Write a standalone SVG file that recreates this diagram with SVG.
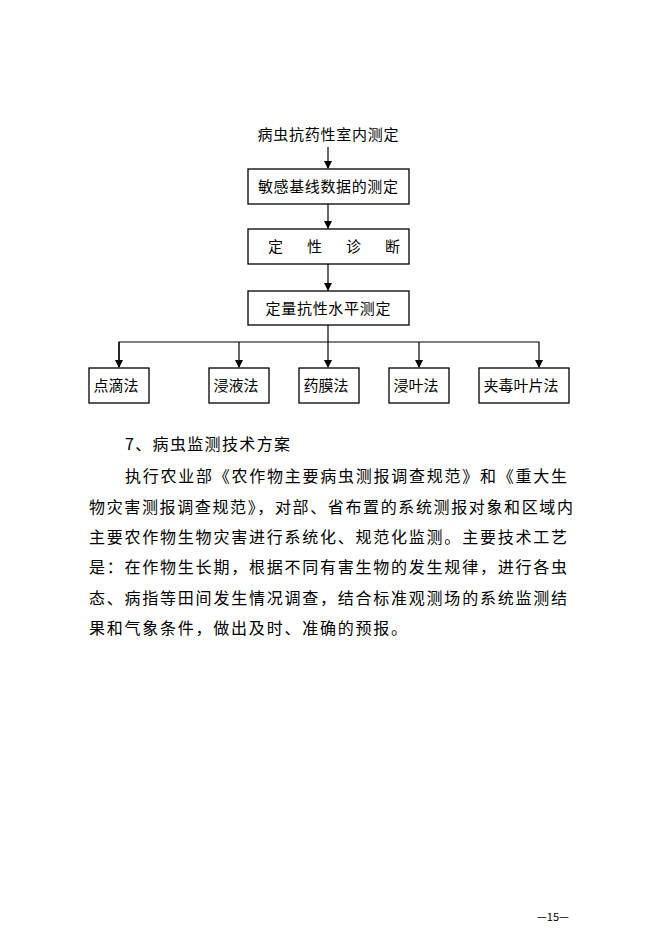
<svg xmlns="http://www.w3.org/2000/svg" width="662" height="936" viewBox="0 0 662 936">
<defs><marker id="ah" markerWidth="8" markerHeight="8" refX="7" refY="4" orient="auto" markerUnits="userSpaceOnUse"><path d="M0,0 L8,4 L0,8 z" fill="#000"/></marker></defs>
<style>
text{font-family:"Noto Sans CJK SC","Liberation Serif",serif;fill:#000}
.n{font-size:15px;text-anchor:middle}
.p{font-size:16px}
rect{fill:#fff;stroke:#000;stroke-width:1.3}
.c{stroke:#000;stroke-width:1.2;fill:none}
</style>
<rect x="0" y="0" width="662" height="936" style="stroke:none"/>
<g id="title"><text class="n" x="328" y="140" textLength="141" lengthAdjust="spacing">病虫抗药性室内测定</text></g>
<g id="connectors">
<line class="c" x1="328" y1="147" x2="328" y2="168" marker-end="url(#ah)"/>
<line class="c" x1="328" y1="204" x2="328" y2="228" marker-end="url(#ah)"/>
<line class="c" x1="328" y1="264" x2="328" y2="290" marker-end="url(#ah)"/>
<line class="c" x1="328" y1="325" x2="328" y2="367" marker-end="url(#ah)"/>
<polyline class="c" points="119,367 119,342 539,342 539,367" marker-end="url(#ah)"/>
<line class="c" x1="119" y1="342" x2="119" y2="367" marker-end="url(#ah)"/>
<line class="c" x1="239" y1="342" x2="239" y2="367" marker-end="url(#ah)"/>
<line class="c" x1="419" y1="342" x2="419" y2="367" marker-end="url(#ah)"/>
</g>
<g id="n1"><rect x="248" y="169" width="161" height="35"/><text class="n" x="328" y="192" textLength="140" lengthAdjust="spacing">敏感基线数据的测定</text></g>
<g id="n2"><rect x="248" y="229" width="161" height="35"/><text class="n" x="334" y="252" textLength="132" lengthAdjust="spacing">定    性    诊    断</text></g>
<g id="n3"><rect x="248" y="291" width="161" height="34"/><text class="n" x="328" y="314" textLength="125" lengthAdjust="spacing">定量抗性水平测定</text></g>
<g id="b1"><rect x="89" y="368" width="60" height="35"/><text class="n" x="116" y="391">点滴法</text></g>
<g id="b2"><rect x="209" y="368" width="60" height="35"/><text class="n" x="236" y="391">浸液法</text></g>
<g id="b3"><rect x="299" y="368" width="60" height="35"/><text class="n" x="326" y="391">药膜法</text></g>
<g id="b4"><rect x="389" y="368" width="60" height="35"/><text class="n" x="416" y="391">浸叶法</text></g>
<g id="b5"><rect x="479" y="368" width="90" height="35"/><text class="n" x="521" y="391">夹毒叶片法</text></g>
<g id="para">
<text class="p" x="125" y="450" textLength="165" lengthAdjust="spacing">7、病虫监测技术方案</text>
<text class="p" x="125" y="482" textLength="442" lengthAdjust="spacing">执行农业部《农作物主要病虫测报调查规范》和《重大生</text>
<text class="p" x="89" y="513" textLength="484" lengthAdjust="spacing">物灾害测报调查规范》，对部、省布置的系统测报对象和区域内</text>
<text class="p" x="89" y="543" textLength="478" lengthAdjust="spacing">主要农作物生物灾害进行系统化、规范化监测。主要技术工艺</text>
<text class="p" x="89" y="573" textLength="478" lengthAdjust="spacing">是：在作物生长期，根据不同有害生物的发生规律，进行各虫</text>
<text class="p" x="89" y="604" textLength="478" lengthAdjust="spacing">态、病指等田间发生情况调查，结合标准观测场的系统监测结</text>
<text class="p" x="89" y="634" textLength="318" lengthAdjust="spacing">果和气象条件，做出及时、准确的预报。</text>
</g>
<text x="537" y="921" style="font-size:11px">—15—</text>
</svg>
